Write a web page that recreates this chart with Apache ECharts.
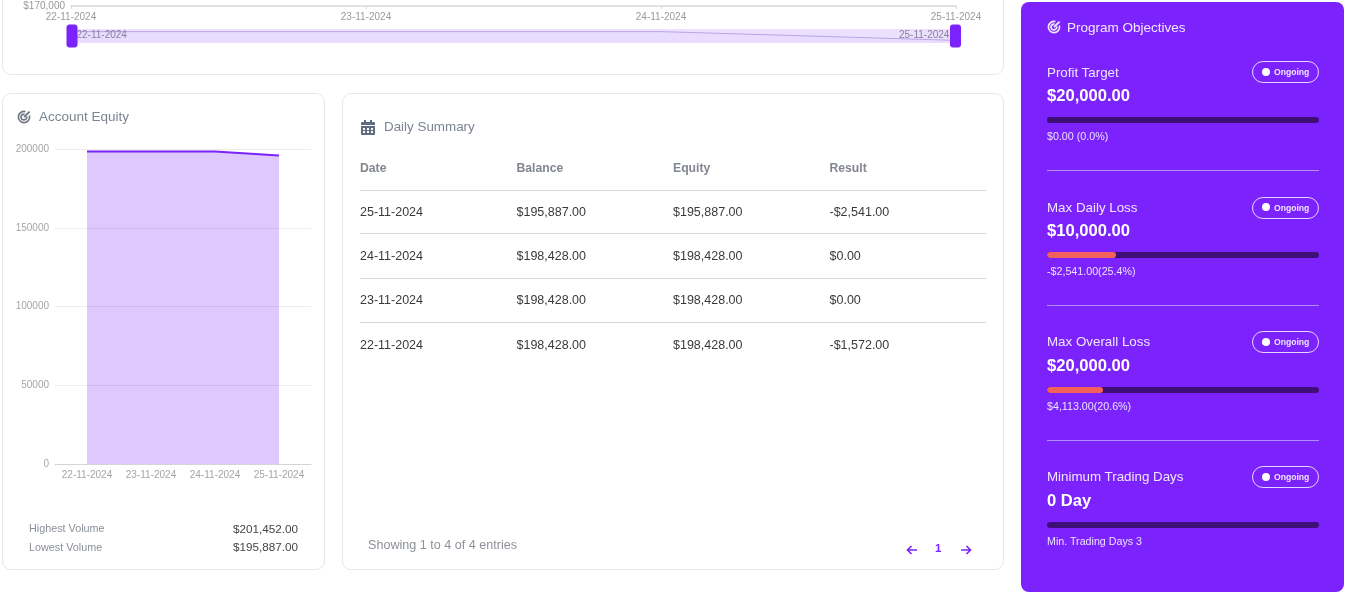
<!DOCTYPE html>
<html>
<head>
<meta charset="utf-8">
<title>Account overview</title>
<script src="https://cdn.jsdelivr.net/npm/echarts@6/dist/echarts.min.js"></script>
<style>
html, body { margin: 0; padding: 0; width: 1346px; height: 594px; overflow: hidden; background: #fff; font-family: "Liberation Sans", Arial, sans-serif; }
#page { position: absolute; left: 0; top: 0; width: 1346px; height: 594px; overflow: hidden; filter: blur(0.35px); }
.abs, .card, .t { position: absolute; }
.card { box-sizing: border-box; background: #fff; border: 1.5px solid #e3e7eb; border-radius: 9px; }
.t { white-space: nowrap; line-height: 16px; height: 16px; }
.side { position: absolute; left: 1021px; top: 2px; width: 323px; height: 590px; background: #7b22fd; border-radius: 8px; }
.pill { position: absolute; box-sizing: border-box; left: 1252px; width: 67px; height: 22px; border: 1px solid #e6d6ff; border-radius: 11px; color: #efe6ff; font-size: 8.6px; font-weight: bold; line-height: 20px; padding-left: 21px; }
.pill:before { content: ""; position: absolute; left: 9px; top: 5.5px; width: 8px; height: 8px; border-radius: 50%; background: #fff; }
.track { position: absolute; left: 1047px; width: 272px; height: 6px; border-radius: 3px; background: #3f0f78; overflow: hidden; }
.fill { height: 100%; background: #f4605c; border-radius: 3px; }
.rule { position: absolute; height: 1px; }
#topChart { position: absolute; left: 0; top: -200px; width: 1004px; height: 275px; }
#equityChart { position: absolute; left: 0; top: 93px; width: 325px; height: 410px; }
</style>
</head>
<body>
<div id="page">
<div class="card" style="left:2px;top:-30px;width:1002px;height:105px"></div>
<div class="card" style="left:2px;top:93px;width:323px;height:477px"></div>
<div class="card" style="left:342px;top:93px;width:662px;height:477px"></div>
<div class="side"></div>
<div id="topChart"></div>
<div id="equityChart"></div>
<div id="layer"></div>
</div>
<script>
var dates = ['22-11-2024', '23-11-2024', '24-11-2024', '25-11-2024'];
var equity = [198428, 198428, 198428, 195887];
var equityTicks = [0, 50000, 100000, 150000, 200000];

var tableHead = ['Date', 'Balance', 'Equity', 'Result'];
var tableDates = ['25-11-2024', '24-11-2024', '23-11-2024', '22-11-2024'];
var tableBalance = ['$195,887.00', '$198,428.00', '$198,428.00', '$198,428.00'];
var tableEquity = ['$195,887.00', '$198,428.00', '$198,428.00', '$198,428.00'];
var tableResult = ['-$2,541.00', '$0.00', '$0.00', '-$1,572.00'];

var goalNames = ['Profit Target', 'Max Daily Loss', 'Max Overall Loss', 'Minimum Trading Days'];
var goalAmounts = ['$20,000.00', '$10,000.00', '$20,000.00', '0 Day'];
var goalPercents = [0, 25.4, 20.6, 0];
var goalNotes = ['$0.00 (0.0%)', '-$2,541.00(25.4%)', '$4,113.00(20.6%)', 'Min. Trading Days 3'];

var layer = document.getElementById('layer');
function text(str, x, y, size, color, extra) {
    var d = document.createElement('div');
    d.className = 't';
    d.textContent = str;
    d.style.cssText = 'left:' + x + 'px;top:' + (y - 8) + 'px;font-size:' + size + 'px;color:' + color + ';' + (extra || '');
    layer.appendChild(d);
    return d;
}
function rule(x, y, w, color) {
    var d = document.createElement('div');
    d.className = 'rule';
    d.style.cssText = 'left:' + x + 'px;top:' + y + 'px;width:' + w + 'px;background:' + color;
    layer.appendChild(d);
}
function icon(svg, x, y) {
    var d = document.createElement('div');
    d.className = 'abs';
    d.style.cssText = 'left:' + x + 'px;top:' + y + 'px;width:14px;height:14px';
    d.innerHTML = svg;
    layer.appendChild(d);
}
function targetIcon(c) {
    return '<svg width="14" height="14" viewBox="0 0 14 14" fill="none" stroke="' + c + '" stroke-width="1.7">' +
        '<path d="M12.4 5.6A5.6 5.6 0 1 1 8.4 1.6"/><path d="M9.7 6.4A2.9 2.9 0 1 1 7.5 4.2"/>' +
        '<path d="M7 7L12.6 1.6" stroke-width="1.9"/></svg>';
}
function arrowIcon(flip) {
    return '<svg width="12" height="12" viewBox="0 0 12 12" fill="none" stroke="#7b22fd" stroke-width="1.6"' +
        (flip ? ' style="transform:scaleX(-1)"' : '') + '><path d="M11 6H1.5M5.5 2L1.5 6l4 4"/></svg>';
}
var calendarIcon = '<svg width="14" height="15" viewBox="0 0 14 15"><path fill="#5f6b80" d="M3 0h2v2h4V0h2v2h2a1 1 0 0 1 1 1v2H0V3a1 1 0 0 1 1-1h2zM0 6h14v8a1 1 0 0 1-1 1H1a1 1 0 0 1-1-1zm2 2v2h2V8zm4 0v2h2V8zm4 0v2h2V8zm-8 3v2h2v-2zm4 0v2h2v-2zm4 0v2h2v-2z"/></svg>';

// slider labels sit inside the handles in the reference, v6 puts them outside
text(dates[0], 76.5, 35, 10, '#8a7f9c');
text(dates[dates.length - 1], 899, 35, 10, '#8a7f9c');

// left card
icon(targetIcon('#6f7785'), 17, 110);
text('Account Equity', 39, 117, 13.5, '#7c8491');
text('Highest Volume', 29, 528, 10.8, '#8a8f99');
text('Lowest Volume', 29, 547, 10.8, '#8a8f99');
text('$201,452.00', 233, 529, 11.7, '#444');
text('$195,887.00', 233, 547, 11.7, '#444');

// table card
icon(calendarIcon, 361, 120);
text('Daily Summary', 384, 127, 13.4, '#7c8491');
var colX = [360, 516.5, 673, 829.5];
var rowY = [212, 255.5, 300, 344.5];
var lineY = [190, 233, 278, 322];
tableHead.forEach(function (h, i) {
    text(h, colX[i], 168, 12.2, '#81868f', 'font-weight:bold');
});
lineY.forEach(function (y) { rule(360, y, 626, '#d4d6da'); });
tableDates.forEach(function (d, r) {
    text(d, colX[0], rowY[r], 12.5, '#3a3a3a');
    text(tableBalance[r], colX[1], rowY[r], 12.5, '#3a3a3a');
    text(tableEquity[r], colX[2], rowY[r], 12.5, '#3a3a3a');
    text(tableResult[r], colX[3], rowY[r], 12.5, '#3a3a3a');
});
text('Showing 1 to 4 of 4 entries', 368, 544.5, 12.6, '#8d9199');
icon(arrowIcon(false), 906, 542);
text('1', 935, 548, 11.5, '#7b22fd', 'font-weight:bold');
icon(arrowIcon(true), 960, 542);

// objectives panel
icon(targetIcon('#efe6ff'), 1047, 20);
text('Program Objectives', 1067, 27.5, 13.5, '#f1e9ff');
var nameY = [72.5, 207.5, 342, 477];
var amountY = [95.5, 230.5, 365.5, 501];
var barY = [116.5, 251.5, 387, 521.5];
var noteY = [136, 271, 405.5, 540.5];
var pillY = [61, 196.5, 331, 466];
var dividerY = [170, 305, 440];
goalNames.forEach(function (n, i) {
    text(n, 1047, nameY[i], 13.35, '#f0e7ff');
    text(goalAmounts[i], 1047, amountY[i], 16.6, '#fff', 'font-weight:bold');
    text(goalNotes[i], 1047, noteY[i], 10.7, '#ece2ff');
    var p = document.createElement('div');
    p.className = 'pill';
    p.textContent = 'Ongoing';
    p.style.top = pillY[i] + 'px';
    layer.appendChild(p);
    var tr = document.createElement('div');
    tr.className = 'track';
    tr.style.top = barY[i] + 'px';
    tr.innerHTML = '<div class="fill" style="width:' + goalPercents[i] + '%"></div>';
    layer.appendChild(tr);
});
dividerY.forEach(function (y) { rule(1047, y, 272, '#b68cff'); });

// top chart, its plot sits above the visible part of the page
var topChart = echarts.init(document.getElementById('topChart'));
topChart.setOption({
    animation: false,
    grid: { left: 71, right: 48, top: 20, bottom: 69 },
    xAxis: {
        type: 'category',
        boundaryGap: false,
        data: dates,
        axisLine: { lineStyle: { color: '#d8d8d8', width: 1.5 } },
        axisTick: { show: true, length: 3, lineStyle: { color: '#d8d8d8' } },
        axisLabel: { color: '#9a9a9a', fontSize: 10, margin: 6, interval: 0, hideOverlap: false, alignMinLabel: 'center', alignMaxLabel: 'center', fontFamily: 'Liberation Sans' }
    },
    yAxis: {
        type: 'value',
        min: 170000,
        max: 200000,
        interval: 10000,
        axisLabel: { color: '#9a9a9a', fontSize: 10, margin: 6, fontFamily: 'Liberation Sans', verticalAlignMinLabel: 'middle', formatter: function (v) { return '$' + v.toLocaleString('en-US'); } },
        splitLine: { show: false }
    },
    dataZoom: [{
        type: 'slider',
        start: 0,
        end: 100,
        left: 68.5,
        right: 50,
        top: 229,
        height: 14,
        borderColor: 'transparent',
        backgroundColor: 'transparent',
        fillerColor: 'rgba(123,34,253,0.14)',
        handleIcon: 'path://M2,0 H8 A2,2 0 0 1 10,2 V20 A2,2 0 0 1 8,22 H2 A2,2 0 0 1 0,20 V2 A2,2 0 0 1 2,0 Z',
        handleSize: 22,
        handleStyle: { color: '#7b22fd', borderColor: '#7b22fd' },
        moveHandleSize: 0,
        showDetail: false,
        dataBackground: { lineStyle: { color: '#b9a6d8', width: 0.5 }, areaStyle: { color: '#e3d3fd', opacity: 0.1 } },
        selectedDataBackground: { lineStyle: { color: '#b9a6d8', width: 0.8 }, areaStyle: { color: '#c9a8fd', opacity: 0.05 } }
    }],
    series: [{ type: 'line', data: equity, showSymbol: false, lineStyle: { color: '#7b22fd' } }]
});

// account equity chart
var equityChart = echarts.init(document.getElementById('equityChart'));
equityChart.setOption({
    animation: false,
    grid: { left: 55, right: 14, top: 56, height: 315 },
    xAxis: {
        type: 'category',
        data: dates,
        axisLine: { lineStyle: { color: '#d5d5d5' } },
        axisTick: { alignWithLabel: true, length: 3, lineStyle: { color: '#d5d5d5' } },
        axisLabel: { color: '#a5a5a5', fontSize: 10, margin: 6, interval: 0, fontFamily: 'Liberation Sans' }
    },
    yAxis: {
        type: 'value',
        min: equityTicks[0],
        max: equityTicks[equityTicks.length - 1],
        interval: equityTicks[1],
        axisLabel: { color: '#a5a5a5', fontSize: 10, margin: 6, fontFamily: 'Liberation Sans', formatter: function (v) { return String(v); } },
        splitLine: { lineStyle: { color: '#ededed' } }
    },
    series: [{
        type: 'line',
        data: equity,
        showSymbol: false,
        lineStyle: { color: '#7b22fd', width: 2 },
        areaStyle: { color: '#7b22fd', opacity: 0.25 }
    }]
});
</script>
</body>
</html>
